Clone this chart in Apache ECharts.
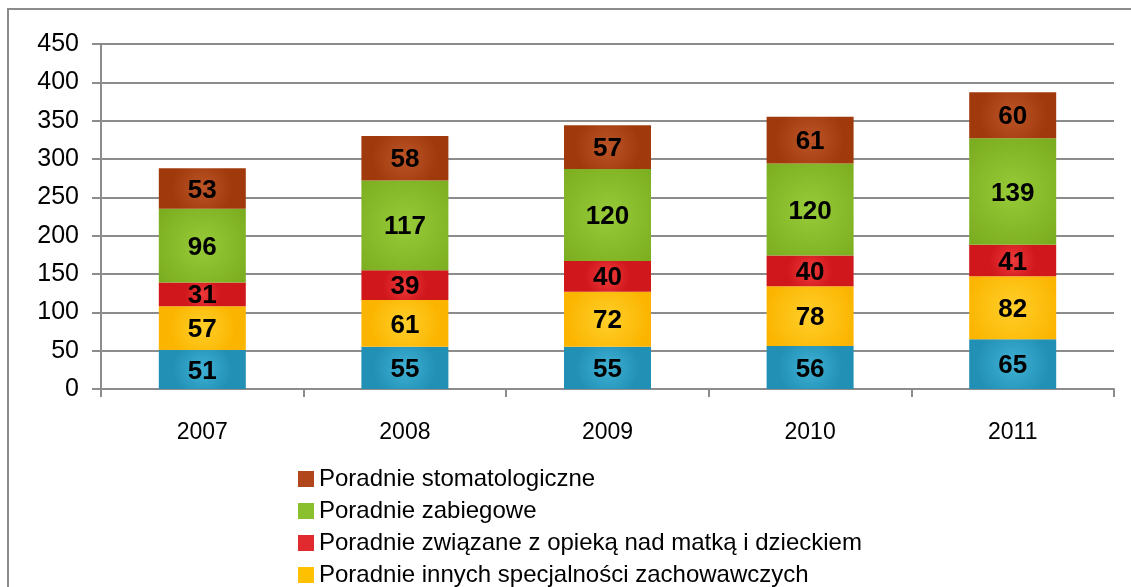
<!DOCTYPE html>
<html>
<head>
<meta charset="utf-8">
<script src="https://cdn.jsdelivr.net/npm/echarts@6/dist/echarts.min.js"></script>
<style>
  html, body { margin: 0; padding: 0; background: #fff; }
  #chart { width: 1131px; height: 587px; }
</style>
</head>
<body>
<div id="chart"></div>
<script>
const years = ['2007', '2008', '2009', '2010', '2011']
const podstawowe = [51, 55, 55, 56, 65]
const inneZachowawcze = [57, 61, 72, 78, 82]
const matkaDziecko = [31, 39, 40, 40, 41]
const zabiegowe = [96, 117, 120, 120, 139]
const stomatologiczne = [53, 58, 57, 61, 60]
const yTicks = [0, 50, 100, 150, 200, 250, 300, 350, 400, 450]

const names = [
  'Poradnie podstawowej opieki zdrowotnej',
  'Poradnie innych specjalności zachowawczych',
  'Poradnie związane z opieką nad matką i dzieckiem',
  'Poradnie zabiegowe',
  'Poradnie stomatologiczne'
]

function shade(inner, outer) {
  return new echarts.graphic.RadialGradient(0.5, 0.5, 0.75, [
    { offset: 0, color: inner },
    { offset: 1, color: outer }
  ])
}

const colors = [
  shade('#3fb0d4', '#2290b5'),
  shade('#ffcf2a', '#fbb500'),
  shade('#ee3a3a', '#d0171c'),
  shade('#97cb38', '#7aac1f'),
  shade('#bc5428', '#a03a0c')
]
const legendColors = ['#2e9cc0', '#ffc000', '#e02a2e', '#8abf2d', '#b0461a']

const seriesData = [podstawowe, inneZachowawcze, matkaDziecko, zabiegowe, stomatologiczne]

const chart = echarts.init(document.getElementById('chart'))

chart.setOption({
  backgroundColor: '#fff',
  animation: false,
  textStyle: { fontFamily: 'Liberation Sans, Arial, sans-serif' },
  graphic: [{
    type: 'rect',
    shape: { x: 8, y: 9, width: 1130, height: 600 },
    style: { fill: 'none', stroke: '#8c8c8c', lineWidth: 2 },
    silent: true
  }],
  grid: {
    left: 101,
    right: 17,
    top: 44,
    bottom: 198,
    containLabel: false
  },
  legend: {
    orient: 'vertical',
    left: 293,
    top: 462,
    height: 300,
    itemWidth: 16,
    itemHeight: 16,
    itemGap: 8,
    icon: 'rect',
    textStyle: { fontSize: 24, color: '#000', letterSpacing: -0.3 },
    data: names.slice().reverse().map((n) => ({
      name: n,
      itemStyle: { color: legendColors[names.indexOf(n)] }
    }))
  },
  xAxis: {
    type: 'category',
    data: years,
    axisLine: { lineStyle: { color: '#8c8c8c', width: 2 } },
    axisTick: { show: true, length: 8, lineStyle: { color: '#8c8c8c', width: 2 } },
    axisLabel: { fontSize: 23, color: '#000', margin: 32 }
  },
  yAxis: {
    type: 'value',
    min: yTicks[0],
    max: yTicks[yTicks.length - 1],
    interval: 50,
    axisLine: { show: true, lineStyle: { color: '#8c8c8c', width: 2 } },
    axisTick: { show: true, length: 9, lineStyle: { color: '#8c8c8c', width: 2 } },
    axisLabel: { fontSize: 25, color: '#000', margin: 22 },
    splitLine: { lineStyle: { color: '#8c8c8c', width: 2 } }
  },
  series: seriesData.map((d, i) => ({
    name: names[i],
    type: 'bar',
    stack: 'total',
    barWidth: 87,
    data: d,
    itemStyle: { color: colors[i] },
    label: {
      show: true,
      position: 'inside',
      color: '#000',
      fontWeight: 'bold',
      fontSize: 26,
      offset: [0, 2]
    }
  }))
})
</script>
</body>
</html>
